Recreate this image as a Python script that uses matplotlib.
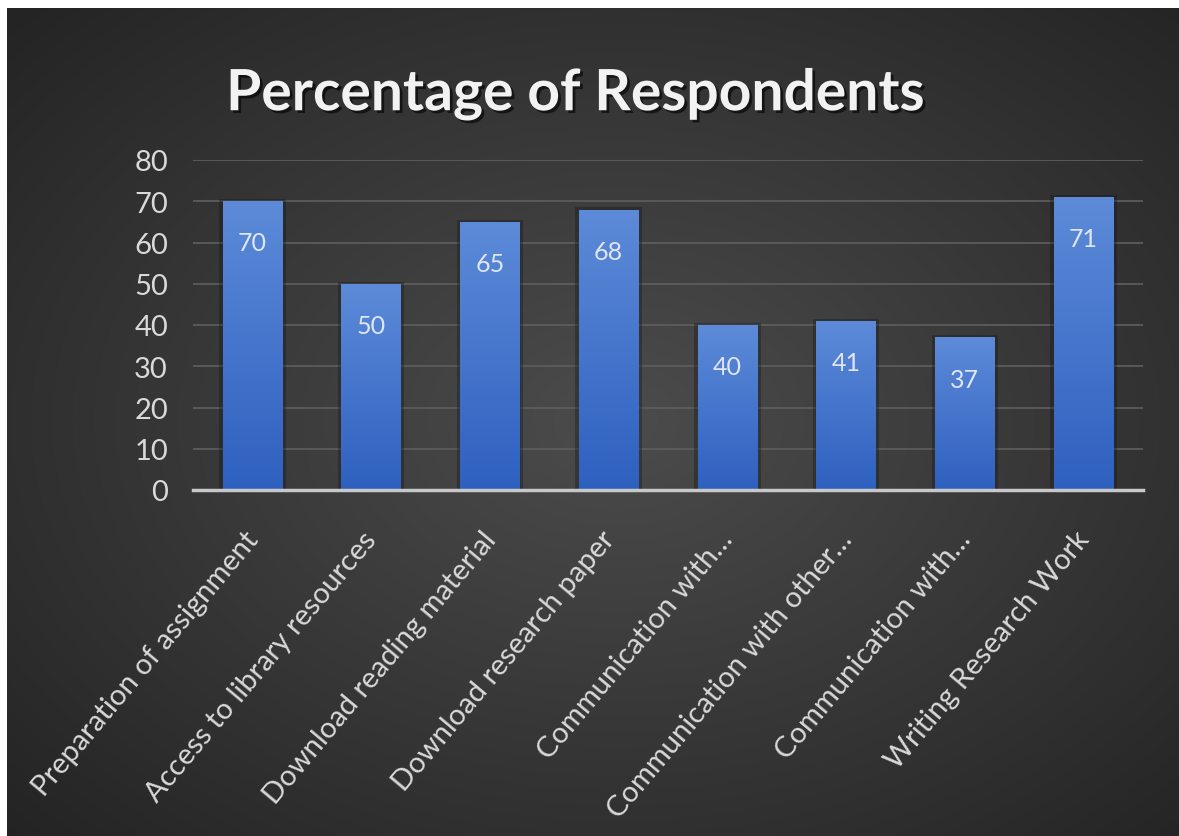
import numpy as np
import matplotlib
matplotlib.use("Agg")
import matplotlib.pyplot as plt
from matplotlib.patches import Rectangle
from matplotlib.transforms import ScaledTranslation
import matplotlib.patheffects as pe

categories = [
    "Preparation of assignment",
    "Access to library resources",
    "Download reading material",
    "Download research paper",
    "Communication with…",
    "Communication with other…",
    "Communication with…",
    "Writing Research Work",
]
values = [70, 50, 65, 68, 40, 41, 37, 71]
yticks = [0, 10, 20, 30, 40, 50, 60, 70, 80]
title = "Percentage of Respondents"

plt.rcParams['font.family'] = ['Lato', 'DejaVu Sans']

W, H = 1179, 837
fig = plt.figure(figsize=(W / 100, H / 100), dpi=100)
fig.patch.set_facecolor('white')

# radial gradient background
bg = fig.add_axes([7 / W, 0, (W - 7) / W, (H - 9) / H])
bg.set_axis_off()
yy, xx = np.mgrid[0:1:400j, 0:1:560j]
r = np.sqrt(((xx - 0.52) / 0.75) ** 2 + ((yy - 0.5) / 0.75) ** 2)
r = np.clip(r, 0, 1)
c0 = np.array([0x4c, 0x4c, 0x4c]) / 255
c1 = np.array([0x22, 0x22, 0x22]) / 255
img = c0[None, None, :] * (1 - r[..., None]) + c1[None, None, :] * r[..., None]
bg.imshow(img, extent=(0, 1, 0, 1), aspect='auto', origin='upper')
bg.set_xlim(0, 1)
bg.set_ylim(0, 1)

ax = fig.add_axes([193 / W, 1 - 491 / H, (1143 - 193) / W, (491 - 161) / H])
ax.patch.set_alpha(0)
n = len(categories)
x = np.arange(n)
bw = 0.5

grad = np.linspace(0, 1, 256)[:, None]
top_c = np.array([0x5d, 0x8b, 0xd9]) / 255
bot_c = np.array([0x2e, 0x60, 0xbf]) / 255
gimg = top_c[None, None, :] * (1 - grad[..., None]) + bot_c[None, None, :] * grad[..., None]

for xi, v in zip(x, values):
    sh = Rectangle((xi - bw / 2 - 0.03, 0), bw + 0.06, v + 0.5, facecolor='#141414',
                   edgecolor='none', alpha=0.35, zorder=2)
    ax.add_patch(sh)
    rect = Rectangle((xi - bw / 2, 0), bw, v, facecolor='none', edgecolor='none', zorder=3)
    ax.add_patch(rect)
    im = ax.imshow(gimg, extent=(xi - bw / 2, xi + bw / 2, 0, v), aspect='auto',
                   origin='upper', zorder=3)
    im.set_clip_path(rect)
    ax.annotate(str(v), (xi, v), xytext=(0, -30), textcoords='offset points',
                ha='center', va='center', fontsize=18, color='#dfe6f5', zorder=5)

ax.set_xlim(-0.5, n - 0.5)
ax.set_ylim(0, 80)
ax.set_yticks(yticks)
ax.set_yticklabels([str(t) for t in yticks], fontsize=21, color='#d9d9d9')
ax.tick_params(axis='y', length=0, pad=18)
ax.set_xticks(x)
ax.set_xticklabels(categories, rotation=50, ha='right', rotation_mode='anchor',
                   fontsize=21, color='#d9d9d9')
ax.tick_params(axis='x', length=0, pad=26)
shift = ScaledTranslation(-9 / 100, 0, fig.dpi_scale_trans)
for lab in ax.get_xticklabels():
    lab.set_transform(lab.get_transform() + shift)
ax.yaxis.grid(True, color='#5c5c5c', linewidth=1.3, zorder=1)
ax.set_axisbelow(True)
for s in ['top', 'right', 'left']:
    ax.spines[s].set_visible(False)
ax.spines['bottom'].set_color('#c8c8c8')
ax.spines['bottom'].set_linewidth(2.5)
ax.spines['bottom'].set_zorder(6)

fig.text(576 / W, 1 - 95 / H, title, ha='center', va='center', fontsize=41,
         fontweight='bold', color='#f2f2f2',
         path_effects=[pe.withSimplePatchShadow(offset=(2, -2), shadow_rgbFace='black', alpha=0.6)])

fig.savefig('out.png', dpi=100, facecolor=fig.get_facecolor())
